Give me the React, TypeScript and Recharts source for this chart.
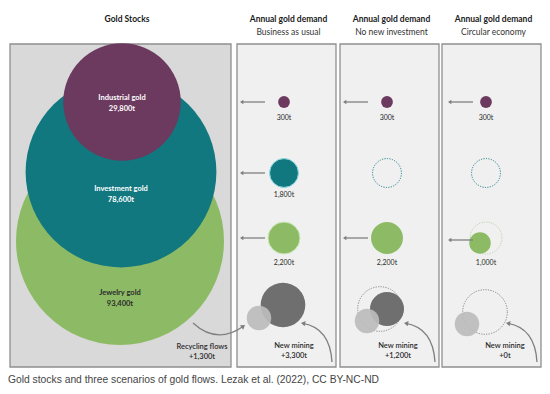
import React from "react";
import { ScatterChart, Scatter, XAxis, YAxis, ZAxis, ReferenceArea } from "recharts";

// gold stocks (tonnes)
const categories = ["Industrial gold", "Investment gold", "Jewelry gold"];
const stockTonnes = [29800, 78600, 93400];

// annual demand per scenario (tonnes), same order as categories
const scenarios = ["Business as usual", "No new investment", "Circular economy"];
const demandBAU = [300, 1800, 2200];
const demandNoInvestment = [300, 0, 2200];
const demandCircular = [300, 0, 1000];

// supply side
const recyclingFlow = 1300;
const newMining = [3300, 1200, 0];
const supplyPool = [4300, 2500, 0];

const scenarioDemand = [demandBAU, demandNoInvestment, demandCircular];

// layout
const W = 550;
const H = 394;
const FONT = "Lato, 'Open Sans', sans-serif";
const COLORS = ["#6b3a5e", "#117880", "#8dbb65"];
const EDGES = ["none", "#8fdde2", "#c9e6b3"];
const DARK = "#6f6f6f";
const LIGHT = "#bcbcbc";
const ARROW = "#7f7f7f";
const TEXT = "#2b2b2b";

const stockCenters = [[122, 102], [121, 172], [120, 241]];
const stockLabelDy = [0, 21, 56];
const stockLabelColor = ["#ffffff", "#ffffff", TEXT];

const colX = [284, 387, 486];
const rowY = [102, 173, 238];
const rowLabelDy = [16, 22, 25];
const panelLeft = [237, 340, 442];
const panelRight = [336, 439, 541];
const PANEL_TOP = 44;
const PANEL_BOTTOM = 367;

// mining row: [dx from column, y]
const miningLayout = [
  { outline: null, dark: [-1, 305], light: [-25, 318] },
  { outline: [-7, 309], dark: [0, 309], light: [-20, 321] },
  { outline: [-1, 312], dark: [0, 312], light: [-19, 324] },
];
const miningLabelInset = [42, 41, 36];

const fmt = (t: number) => t.toLocaleString("en-US") + "t";

const stockPoints = categories
  .map((name, i) => ({
    x: stockCenters[i][0],
    y: stockCenters[i][1],
    t: stockTonnes[i],
    name,
    color: COLORS[i],
    labelDy: stockLabelDy[i],
    labelColor: stockLabelColor[i],
  }))
  .reverse();

const kindOrder: Record<string, number> = { outline: 0, dark: 1, light: 2, fill: 3 };

const demandPoints: any[] = [];
const labelPoints: any[] = [];
const arrowPoints: any[] = [];
scenarioDemand.forEach((dem, s) => {
  dem.forEach((t, r) => {
    const base = demandBAU[r];
    const reduced = t < base;
    if (reduced) {
      demandPoints.push({ x: colX[s], y: rowY[r], t: base, kind: "outline", color: COLORS[r], faded: t > 0 });
    }
    if (t > 0) {
      demandPoints.push({
        x: colX[s] + (reduced ? -6 : 0),
        y: rowY[r] + (reduced ? 5 : 0),
        t,
        kind: "fill",
        color: COLORS[r],
        edge: s === 0 ? EDGES[r] : "none",
      });
      labelPoints.push({ x: colX[s], y: rowY[r] + rowLabelDy[r], t: 0, text: fmt(t) });
      arrowPoints.push({ x: panelLeft[s] + (s === 2 ? 31 : 28), y: rowY[r] + (reduced ? 2 : 0), t: 0, len: 25 });
    }
  });
  const m = miningLayout[s];
  if (m.outline) {
    demandPoints.push({ x: colX[s] + m.outline[0], y: m.outline[1], t: supplyPool[0], kind: "outline", color: "#7a7a7a" });
  }
  if (supplyPool[s] > 0) {
    demandPoints.push({ x: colX[s] + m.dark[0], y: m.dark[1], t: supplyPool[s], kind: "dark", color: DARK });
  }
  demandPoints.push({ x: colX[s] + m.light[0], y: m.light[1], t: recyclingFlow, kind: "light", color: LIGHT });
});
demandPoints.sort((a, b) => kindOrder[a.kind] - kindOrder[b.kind]);

const miningLabels = scenarios.map((sc, s) => ({
  x: panelRight[s] - miningLabelInset[s],
  y: 345,
  t: 0,
  lines: ["New mining", "+" + fmt(newMining[s])],
}));
const recyclingLabel = [{ x: 202, y: 346, t: 0, lines: ["Recycling flows", "+" + fmt(recyclingFlow)] }];

const curvedArrows = [
  ...panelRight.map((pr) => ({ x: pr - 4, y: 362, t: 0, ex: -31, ey: -39, qx: -2, qy: -34 })),
  { x: 193, y: 323, t: 0, ex: 52, ey: 2, qx: 24, qy: 22 },
];

const head = (x: number, y: number, ang: number, size = 4.5) => {
  const a1 = ang + Math.PI * 0.82;
  const a2 = ang - Math.PI * 0.82;
  return `M${x},${y} L${x + size * Math.cos(a1)},${y + size * Math.sin(a1)} L${x + size * Math.cos(a2)},${y + size * Math.sin(a2)} Z`;
};

const StockShape = (p: any) => {
  const { cx, cy, payload } = p;
  const r = p.width / 2;
  const ly = cy + payload.labelDy;
  return (
    <g>
      <circle cx={cx} cy={cy} r={r} fill={payload.color} />
      <text x={cx} y={ly - 5} textAnchor="middle" dy="0.35em" fontFamily={FONT} fontSize={7.5} fontWeight={700} fill={payload.labelColor}>
        {payload.name}
      </text>
      <text x={cx} y={ly + 6} textAnchor="middle" dy="0.35em" fontFamily={FONT} fontSize={7.5} fontWeight={700} fill={payload.labelColor}>
        {fmt(payload.t)}
      </text>
    </g>
  );
};

const DemandShape = (p: any) => {
  const { cx, cy, payload } = p;
  const r = p.width / 2;
  if (payload.kind === "outline") {
    return (
      <circle cx={cx} cy={cy} r={r} fill="none" stroke={payload.color} strokeOpacity={payload.faded ? 0.55 : 0.9}
        strokeWidth={1} strokeDasharray="1.2 1.3" />
    );
  }
  if (payload.kind === "light") {
    return <circle cx={cx} cy={cy} r={r} fill={payload.color} fillOpacity={0.92} />;
  }
  return <circle cx={cx} cy={cy} r={r} fill={payload.color} stroke={payload.edge || "none"} strokeWidth={1} />;
};

const LabelShape = (p: any) => (
  <text x={p.cx} y={p.cy} textAnchor="middle" dy="0.35em" fontFamily={FONT} fontSize={7} fill={TEXT}>
    {p.payload.text}
  </text>
);

const TwoLineShape = (p: any) => (
  <g>
    {p.payload.lines.map((l: string, i: number) => (
      <text key={i} x={p.cx} y={p.cy + i * 10.5} textAnchor="middle" dy="0.35em" fontFamily={FONT} fontSize={7.5}
        fontWeight={600} fill={TEXT}>
        {l}
      </text>
    ))}
  </g>
);

const ArrowShape = (p: any) => {
  const { cx, cy, payload } = p;
  const tip = cx - payload.len;
  return (
    <g>
      <line x1={cx} y1={cy} x2={tip + 3} y2={cy} stroke={ARROW} strokeWidth={1.3} />
      <path d={head(tip, cy, Math.PI, 4)} fill={ARROW} />
    </g>
  );
};

const CurveShape = (p: any) => {
  const { cx, cy, payload } = p;
  const ex = cx + payload.ex;
  const ey = cy + payload.ey;
  const qx = cx + payload.qx;
  const qy = cy + payload.qy;
  const ang = Math.atan2(ey - qy, ex - qx);
  return (
    <g>
      <path d={`M${cx},${cy} Q${qx},${qy} ${ex - 2 * Math.cos(ang)},${ey - 2 * Math.sin(ang)}`} fill="none" stroke={ARROW} strokeWidth={1.3} />
      <path d={head(ex, ey, ang, 5)} fill={ARROW} />
    </g>
  );
};

const Title = ({ x, main, sub }: { x: number; main: string; sub?: string }) => (
  <g>
    <text x={x} y={19} textAnchor="middle" dy="0.35em" fontFamily={FONT} fontSize={8.5} fontWeight={700} fill="#1a1a1a">
      {main}
    </text>
    {sub && (
      <text x={x} y={32} textAnchor="middle" dy="0.35em" fontFamily={FONT} fontSize={8.5} fill="#333">
        {sub}
      </text>
    )}
  </g>
);

export default function App() {
  return (
    <div style={{ position: "absolute", left: 0, top: 0, background: "#fff" }}>
      <ScatterChart width={W} height={H} margin={{ top: 0, right: 0, bottom: 0, left: 0 }}>
        <XAxis type="number" dataKey="x" domain={[0, W]} hide />
        <YAxis type="number" dataKey="y" domain={[0, H]} reversed hide />
        <ZAxis type="number" dataKey="t" domain={[0, stockTonnes[2]]} range={[0, Math.PI * 104 * 104]} />

        <ReferenceArea x1={10} x2={231} y1={PANEL_TOP} y2={PANEL_BOTTOM} fill="#d9d9d9" fillOpacity={1}
          stroke="#8f8f8f" strokeWidth={1.3} />
        {panelLeft.map((pl, s) => (
          <ReferenceArea key={s} x1={pl} x2={panelRight[s]} y1={PANEL_TOP} y2={PANEL_BOTTOM} fill="#f0f0f0"
            fillOpacity={1} stroke="#8f8f8f" strokeWidth={1.3} />
        ))}

        <Scatter data={stockPoints} shape={StockShape} isAnimationActive={false} />
        <Scatter data={demandPoints} shape={DemandShape} isAnimationActive={false} />
        <Scatter data={labelPoints} shape={LabelShape} isAnimationActive={false} />
        <Scatter data={arrowPoints} shape={ArrowShape} isAnimationActive={false} />
        <Scatter data={curvedArrows} shape={CurveShape} isAnimationActive={false} />
        <Scatter data={miningLabels} shape={TwoLineShape} isAnimationActive={false} />
        <Scatter data={recyclingLabel} shape={TwoLineShape} isAnimationActive={false} />

        <Title x={127} main="Gold Stocks" />
        {scenarios.map((sc, s) => (
          <Title key={sc} x={(panelLeft[s] + panelRight[s]) / 2 + 2} main="Annual gold demand" sub={sc} />
        ))}
        <text x={8} y={379} dy="0.35em" fontFamily="'Liberation Sans', Arial, sans-serif" fontSize={10.3} fill="#444">
          Gold stocks and three scenarios of gold flows. Lezak et al. (2022), CC BY-NC-ND
        </text>
      </ScatterChart>
    </div>
  );
}
